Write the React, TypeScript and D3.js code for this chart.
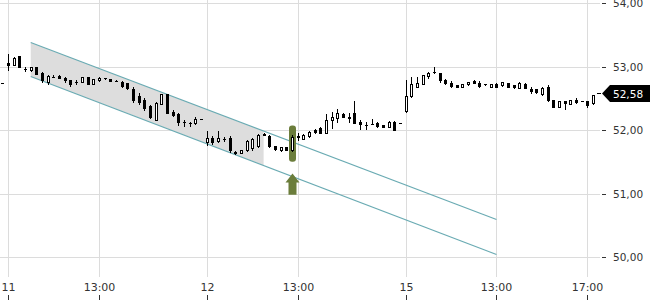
import React from "react";
import * as d3 from "d3";

// OHLC per 15-minute slot: [open, high, low, close]
const day11: [number, number, number, number][] = [
  [53.05, 53.2, 52.94, 53.02], [53.03, 53.15, 53.02, 53.13], [53.16, 53.17, 53.0, 53.0],
  [52.96, 53.0, 52.93, 52.965], [52.95, 53.0, 52.93, 53.0], [53.0, 53.0, 52.88, 52.885],
  [52.89, 52.91, 52.76, 52.78], [52.76, 52.86, 52.72, 52.85], [52.83, 52.87, 52.83, 52.83],
  [52.85, 52.86, 52.82, 52.82], [52.82, 52.83, 52.76, 52.78], [52.78, 52.79, 52.7, 52.72],
  [52.75, 52.78, 52.72, 52.755], [52.76, 52.84, 52.75, 52.83], [52.83, 52.84, 52.72, 52.73],
  [52.73, 52.81, 52.72, 52.8], [52.78, 52.84, 52.77, 52.82], [52.815, 52.82, 52.81, 52.815],
  [52.8, 52.805, 52.77, 52.775], [52.775, 52.78, 52.77, 52.775], [52.76, 52.77, 52.68, 52.69],
  [52.74, 52.745, 52.65, 52.665], [52.65, 52.67, 52.44, 52.47], [52.54, 52.58, 52.41, 52.44],
  [52.48, 52.5, 52.32, 52.34], [52.385, 52.39, 52.19, 52.2], [52.16, 52.44, 52.16, 52.42],
  [52.41, 52.57, 52.41, 52.56], [52.56, 52.565, 52.26, 52.265], [52.29, 52.32, 52.22, 52.24],
  [52.25, 52.26, 52.08, 52.12], [52.12, 52.15, 52.07, 52.125], [52.11, 52.13, 52.06, 52.11],
  [52.11, 52.21, 52.1, 52.175], [52.175, 52.18, 52.17, 52.175],
];
const day12: [number, number, number, number][] = [
  [51.81, 51.98, 51.77, 51.87], [51.87, 51.91, 51.78, 51.81], [51.82, 51.98, 51.81, 51.87],
  [51.86, 51.89, 51.83, 51.865], [51.87, 51.9, 51.66, 51.68], [51.66, 51.665, 51.62, 51.645],
  [51.64, 51.69, 51.635, 51.69], [51.68, 51.85, 51.67, 51.83], [51.71, 51.87, 51.69, 51.855],
  [51.745, 51.94, 51.73, 51.925], [51.93, 51.96, 51.92, 51.925], [51.91, 51.92, 51.74, 51.745],
  [51.745, 51.75, 51.69, 51.7], [51.68, 51.735, 51.675, 51.73], [51.73, 51.735, 51.68, 51.69],
  [51.68, 51.92, 51.67, 51.89], [51.9, 51.945, 51.85, 51.895], [51.86, 51.94, 51.855, 51.925],
  [51.91, 51.99, 51.89, 51.975], [52.0, 52.01, 51.96, 51.97], [52.03, 52.04, 51.95, 51.95],
  [51.95, 52.25, 51.95, 52.15], [52.15, 52.29, 52.03, 52.2], [52.19, 52.33, 52.12, 52.265],
  [52.255, 52.26, 52.2, 52.21], [52.2, 52.27, 52.12, 52.195], [52.27, 52.46, 52.11, 52.11],
  [52.125, 52.15, 52.02, 52.09], [52.08, 52.13, 52.01, 52.075], [52.1, 52.18, 52.095, 52.1],
  [52.11, 52.13, 52.04, 52.06], [52.08, 52.085, 52.04, 52.05], [52.045, 52.14, 52.04, 52.13],
  [52.13, 52.135, 52.0, 52.0], [52.11, 52.11, 52.11, 52.11],
];
const day15: [number, number, number, number][] = [
  [52.3, 52.78, 52.29, 52.53], [52.53, 52.83, 52.52, 52.73], [52.675, 52.83, 52.67, 52.74],
  [52.73, 52.87, 52.73, 52.86], [52.85, 52.92, 52.82, 52.895], [52.91, 53.0, 52.905, 52.91],
  [52.895, 52.9, 52.76, 52.78], [52.79, 52.8, 52.73, 52.74], [52.74, 52.77, 52.68, 52.7],
  [52.705, 52.71, 52.67, 52.675], [52.675, 52.725, 52.67, 52.72], [52.72, 52.755, 52.715, 52.75],
  [52.77, 52.79, 52.74, 52.745], [52.745, 52.77, 52.68, 52.7], [52.72, 52.725, 52.715, 52.72],
  [52.685, 52.725, 52.68, 52.72], [52.72, 52.74, 52.67, 52.685], [52.71, 52.755, 52.7, 52.75],
  [52.74, 52.745, 52.67, 52.675], [52.71, 52.715, 52.665, 52.67], [52.665, 52.75, 52.66, 52.745],
  [52.73, 52.735, 52.66, 52.665], [52.65, 52.67, 52.59, 52.61], [52.64, 52.645, 52.59, 52.6],
  [52.56, 52.67, 52.555, 52.665], [52.675, 52.71, 52.46, 52.465], [52.465, 52.47, 52.36, 52.37],
  [52.37, 52.46, 52.36, 52.455], [52.45, 52.455, 52.33, 52.42], [52.41, 52.48, 52.405, 52.475],
  [52.475, 52.5, 52.43, 52.445], [52.455, 52.46, 52.45, 52.455], [52.455, 52.46, 52.37, 52.4],
  [52.42, 52.55, 52.415, 52.545], [52.58, 52.58, 52.58, 52.58],
];
const days = [day11, day12, day15];
const previousClose = 52.74;
const lastPrice = 52.58;

const yTicks = [50, 51, 52, 53, 54];
const xTickPos = [0, 16, 35, 51, 70, 86, 102];
const xTickLabels = ["11", "13:00", "12", "13:00", "15", "13:00", "17:00"];

// trend channel (slot position, value)
const channelStart = 4;
const channelEnd = 86;
const upperValues = [53.378, 50.59];
const lowerValues = [52.843, 50.04];
const channelFillEnd = 45;

// signal
const signalPos = 50;
const signalRange = [51.5, 52.07];
const arrowRange = [50.98, 51.315];

const SLOTS_PER_DAY = 35;

export default function App() {
  const W = 650, H = 300;
  const x = d3.scaleLinear().domain([0, 105]).range([8, 8 + 105 * 5.68]);
  const y = d3.scaleLinear().domain([50, 54]).range([257, 3]);
  const fmt = (v: number) => v.toFixed(2).replace(".", ",");

  const lineVal = (vals: number[], p: number) =>
    vals[0] + ((vals[1] - vals[0]) * (p - channelStart)) / (channelEnd - channelStart);
  const fillPts = d3.range(channelStart, channelFillEnd + 0.001, 1).concat([channelFillEnd]);
  const area = d3
    .area<number>()
    .x((p) => x(p))
    .y0((p) => y(lineVal(lowerValues, p)))
    .y1((p) => y(lineVal(upperValues, p)));

  const candles: { pos: number; o: number; h: number; l: number; c: number }[] = [];
  days.forEach((d, di) =>
    d.forEach(([o, h, l, c], i) => candles.push({ pos: di * SLOTS_PER_DAY + i, o, h, l, c }))
  );

  const gridColor = "#dcdcdc";
  const chColor = "#6aabb3";
  const green = "#6b7d3b";
  const font = "DejaVu Sans, Verdana, sans-serif";

  const sx = Math.round(x(signalPos));
  const arrowTop = y(arrowRange[1]);
  const arrowBot = y(arrowRange[0]);
  const py = Math.round(y(lastPrice)) + 0.5;

  return (
    <svg width={W} height={H} style={{ position: "absolute", left: 0, top: 0, background: "#fff" }}>
      {/* horizontal grid */}
      {yTicks.map((t) => (
        <line key={"h" + t} x1={0} x2={600} y1={Math.round(y(t)) + 0.5} y2={Math.round(y(t)) + 0.5} stroke={gridColor} />
      ))}
      {/* vertical grid */}
      {xTickPos.map((p) => (
        <line key={"v" + p} x1={Math.round(x(p)) + 0.5} x2={Math.round(x(p)) + 0.5} y1={0} y2={277} stroke={gridColor} />
      ))}
      {/* channel fill */}
      <path d={area(fillPts) || ""} fill="#dddddd" />
      {/* channel lines */}
      <line x1={x(channelStart)} x2={x(channelEnd)} y1={y(upperValues[0])} y2={y(upperValues[1])} stroke={chColor} strokeWidth={1.2} />
      <line x1={x(channelStart)} x2={x(channelEnd)} y1={y(lowerValues[0])} y2={y(lowerValues[1])} stroke={chColor} strokeWidth={1.2} />
      {/* signal marker */}
      <rect x={sx - 3} y={y(signalRange[1])} width={7} height={y(signalRange[0]) - y(signalRange[1])} rx={3} fill={green} />
      <path
        d={`M${sx + 0.5},${arrowTop} L${sx + 7.5},${arrowTop + 9} L${sx + 4.5},${arrowTop + 9} L${sx + 4.5},${arrowBot} L${sx - 3.5},${arrowBot} L${sx - 3.5},${arrowTop + 9} L${sx - 6.5},${arrowTop + 9} Z`}
        fill={green}
      />
      {/* previous close */}
      <line x1={Math.round(x(-1)) - 1} x2={Math.round(x(-1)) + 2} y1={Math.round(y(previousClose)) + 0.5} y2={Math.round(y(previousClose)) + 0.5} stroke="#000" />
      {/* candles */}
      {candles.map((k) => {
        const px = Math.round(x(k.pos));
        const top = Math.round(y(Math.max(k.o, k.c)));
        const bot = Math.round(y(Math.min(k.o, k.c)));
        const up = k.c > k.o;
        return (
          <g key={k.pos}>
            <line x1={px + 0.5} x2={px + 0.5} y1={Math.round(y(k.h))} y2={Math.round(y(k.l)) + 1} stroke="#000" />
            {bot - top < 1 ? (
              <rect x={px - 1} y={top} width={3} height={1} fill="#000" />
            ) : up ? (
              <rect x={px - 0.5} y={top + 0.5} width={2} height={bot - top} fill="#fff" stroke="#000" />
            ) : (
              <rect x={px - 1} y={top} width={3} height={bot - top + 1} fill="#000" />
            )}
          </g>
        );
      })}
      {/* y axis */}
      {yTicks.map((t) => (
        <g key={"yt" + t}>
          <line x1={602} x2={606} y1={Math.round(y(t)) + 0.5} y2={Math.round(y(t)) + 0.5} stroke="#333" />
          <text x={613} y={y(t) + 4} fontFamily={font} fontSize={10.5} fill="#333">
            {fmt(t)}
          </text>
        </g>
      ))}
      {/* last price label */}
      <line x1={597} x2={600} y1={py} y2={py} stroke="#000" />
      <path d={`M602,${py} L610,${py - 8.5} L650,${py - 8.5} L650,${py + 8.5} L610,${py + 8.5} Z`} fill="#000" />
      <text x={613} y={py + 4} fontFamily={font} fontSize={10.5} fill="#fff">
        {fmt(lastPrice)}
      </text>
      {/* x axis */}
      {xTickPos.map((p, i) => (
        <g key={"xt" + p}>
          <text x={Math.round(x(p)) + 0.5} y={291} textAnchor="middle" fontFamily={font} fontSize={11} fill="#333">
            {xTickLabels[i]}
          </text>
          <line x1={Math.round(x(p)) + 0.5} x2={Math.round(x(p)) + 0.5} y1={295} y2={300} stroke="#333" />
        </g>
      ))}
    </svg>
  );
}
